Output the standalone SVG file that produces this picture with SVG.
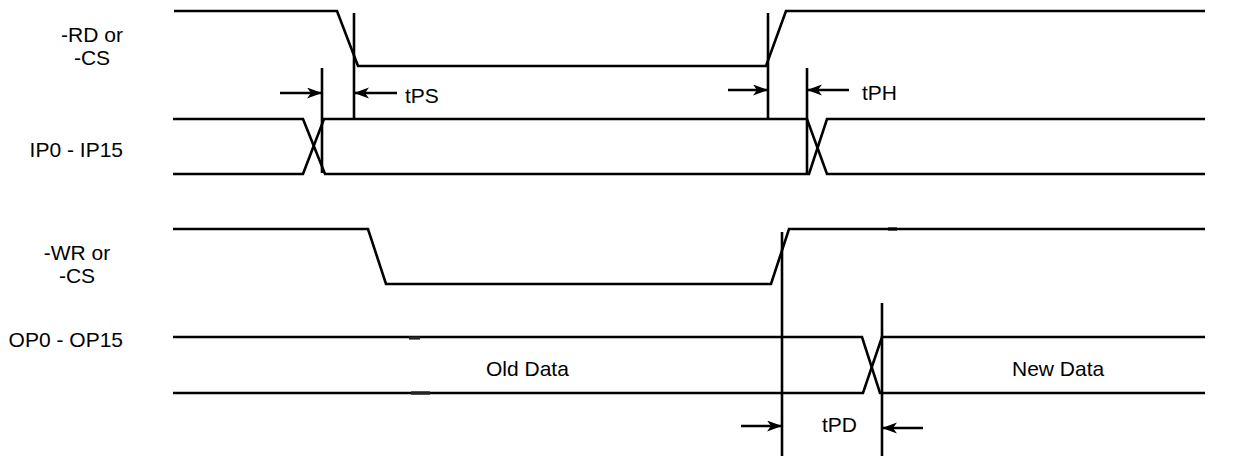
<svg xmlns="http://www.w3.org/2000/svg" width="1233" height="456" viewBox="0 0 1233 456">
<style>
.w{fill:none;stroke:#000;stroke-width:2.6;stroke-linejoin:miter}
.m{fill:none;stroke:#000;stroke-width:2.6}
.a{fill:none;stroke:#000;stroke-width:2.6;marker-end:url(#ah)}
text{font-family:"Liberation Sans",Arial,sans-serif;font-size:21px;fill:#000}
</style>
<defs>
<marker id="ah" markerUnits="userSpaceOnUse" markerWidth="16" markerHeight="12" refX="15" refY="5.5" orient="auto">
<path d="M0,0 L15,5.5 L0,11 L4,5.5 z" fill="#000"/>
</marker>
</defs>
<rect width="1233" height="456" fill="#fff"/>
<g id="labels">
<text x="92" y="42" text-anchor="middle">-RD or</text>
<text x="92" y="65" text-anchor="middle">-CS</text>
<text x="123" y="157" text-anchor="end">IP0 - IP15</text>
<text x="77" y="260" text-anchor="middle">-WR or</text>
<text x="77" y="283" text-anchor="middle">-CS</text>
<text x="123" y="347" text-anchor="end">OP0 - OP15</text>
</g>
<g id="rd">
<path class="w" d="M174,11 H337 L358,66 H766 L786,11 H1205"/>
</g>
<g id="ip">
<path class="w" d="M173,119 H303 L325,174 H809 L827,119 H1205"/>
<path class="w" d="M173,174 H303 L324,119 H807 L827,174 H1205"/>
</g>
<g id="wr">
<path class="w" d="M173,229 H368 L386,284 H771 L789,229 H1205"/>
<path d="M888,229 H897" stroke="#000" stroke-width="3.2"/>
</g>
<g id="op">
<path class="w" d="M173,337 H862 L880,393 H1205"/>
<path class="w" d="M173,393 H863 L882,337 H1205"/>
<path d="M409,338 H420" stroke="#222" stroke-width="3.2"/>
<path d="M411,393 H430" stroke="#222" stroke-width="3.4"/>
<text x="486" y="376">Old Data</text>
<text x="1012" y="376">New Data</text>
</g>
<g id="connectors">
<path class="m" d="M354,13 V119"/>
<path class="m" d="M322,68 V173"/>
<path class="m" d="M768,13 V119"/>
<path class="m" d="M807,68 V174"/>
<path class="m" d="M782,232 V456"/>
<path class="m" d="M882,303 V456"/>
<path class="a" d="M280,93 H322"/>
<path class="a" d="M397,93 H354"/>
<path class="a" d="M728,90 H768"/>
<path class="a" d="M849,90 H807"/>
<path class="a" d="M741,426 H782"/>
<path class="a" d="M923,428 H882"/>
</g>
<g id="timing-labels">
<text x="405" y="103">tPS</text>
<text x="862" y="100">tPH</text>
<text x="822" y="432">tPD</text>
</g>
</svg>
